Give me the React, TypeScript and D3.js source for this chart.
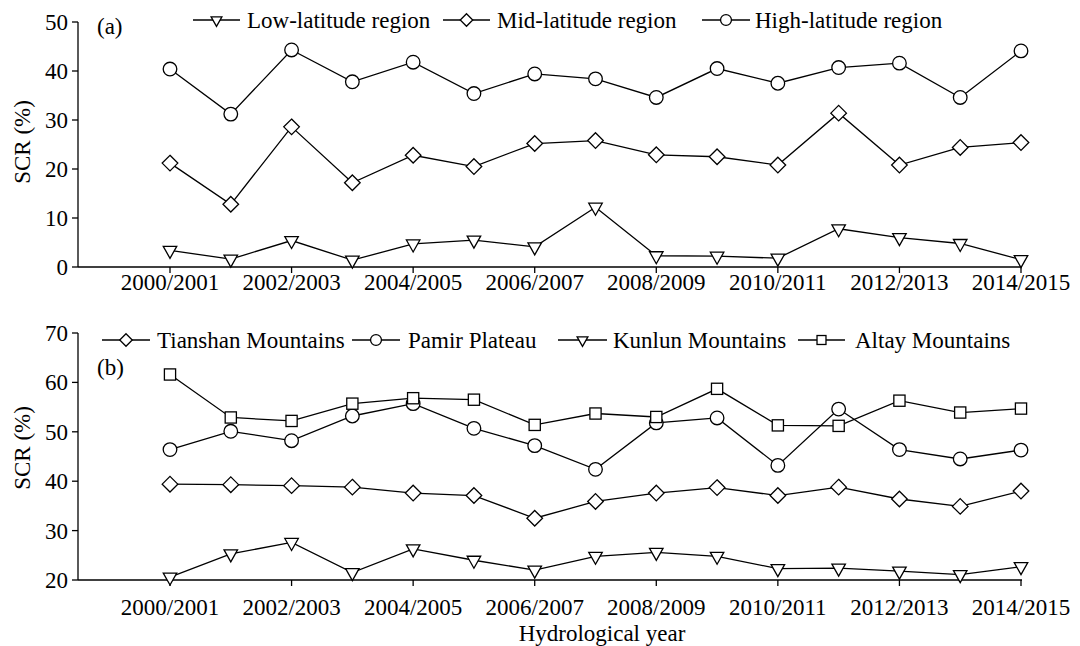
import React from 'react';
import * as d3 from 'd3';

const years = ['2000/2001','2001/2002','2002/2003','2003/2004','2004/2005','2005/2006','2006/2007','2007/2008','2008/2009','2009/2010','2010/2011','2011/2012','2012/2013','2013/2014','2014/2015'];
const tickYears = ['2000/2001','2002/2003','2004/2005','2006/2007','2008/2009','2010/2011','2012/2013','2014/2015'];

const lowLat = [3.4, 1.6, 5.4, 1.4, 4.7, 5.5, 4.1, 12.2, 2.3, 2.2, 1.8, 7.8, 6.0, 4.8, 1.5];
const midLat = [21.2, 12.8, 28.6, 17.2, 22.8, 20.5, 25.2, 25.8, 22.9, 22.5, 20.8, 31.4, 20.8, 24.4, 25.4];
const highLat = [40.4, 31.2, 44.3, 37.8, 41.8, 35.4, 39.4, 38.4, 34.6, 40.5, 37.5, 40.7, 41.6, 34.6, 44.1];

const tianshan = [39.4, 39.3, 39.1, 38.8, 37.6, 37.1, 32.5, 35.9, 37.6, 38.7, 37.1, 38.8, 36.4, 34.9, 38.0];
const pamir = [46.4, 50.1, 48.2, 53.2, 55.7, 50.7, 47.2, 42.4, 51.8, 52.8, 43.2, 54.6, 46.4, 44.5, 46.3];
const kunlun = [20.6, 25.3, 27.6, 21.5, 26.3, 24.0, 22.0, 24.8, 25.6, 24.8, 22.3, 22.4, 21.8, 21.1, 22.7];
const altay = [61.6, 52.9, 52.2, 55.7, 56.8, 56.5, 51.4, 53.7, 53.0, 58.7, 51.3, 51.2, 56.3, 53.9, 54.7];

const ticksA = [0, 10, 20, 30, 40, 50];
const ticksB = [20, 30, 40, 50, 60, 70];

type Shape = 'tri' | 'dia' | 'cir' | 'sq';

const FONT = "'Liberation Serif', 'DejaVu Serif', serif";
const FS = 23;
const SW = 1.3;

function Marker({ shape, x, y, k = 1 }: { shape: Shape; x: number; y: number; k?: number }) {
  const common = { fill: '#fff', stroke: '#000', strokeWidth: SW };
  if (shape === 'cir') return <circle cx={x} cy={y} r={6.8 * k} {...common} />;
  if (shape === 'dia') {
    const s = 7.8 * k;
    return <path d={`M${x},${y - s}L${x + s},${y}L${x},${y + s}L${x - s},${y}Z`} {...common} />;
  }
  if (shape === 'sq') {
    const s = 5.6 * k;
    return <rect x={x - s} y={y - s} width={2 * s} height={2 * s} {...common} />;
  }
  const w = 13.5 * k, h = 12 * k;
  return <path d={`M${x - w / 2},${y - h / 3}L${x + w / 2},${y - h / 3}L${x},${y + (2 * h) / 3}Z`} {...common} />;
}

const x = d3.scaleLinear().domain([0, years.length - 1]).range([170, 1021]);
const AXIS_LEFT = 78;
const AXIS_RIGHT = 1022;

interface Series { name: string; values: number[]; shape: Shape; }
interface LegendItem { shape: Shape; x1: number; x2: number; tx: number; name: string; }

const textStyle = { fontFamily: FONT, fontSize: FS };

function Panel({ series, ticks, yTop, yBot, label, labelY, legend, legendY, tickLabelY, yLabelY }: {
  series: Series[]; ticks: number[]; yTop: number; yBot: number; label: string; labelY: number;
  legend: LegendItem[]; legendY: number; tickLabelY: number; yLabelY: number;
}) {
  const y = d3.scaleLinear().domain([ticks[0], ticks[ticks.length - 1]]).range([yBot, yTop]);
  const line = d3.line<number>().x((_, i) => x(i)).y((d) => y(d));
  return (
    <g>
      <line x1={AXIS_LEFT} x2={AXIS_LEFT} y1={yTop} y2={yBot} stroke="#000" strokeWidth={SW} />
      {ticks.map((t) => (
        <g key={t}>
          <line x1={AXIS_LEFT - 6} x2={AXIS_LEFT} y1={y(t)} y2={y(t)} stroke="#000" strokeWidth={SW} />
          <text x={68} y={y(t)} dy="0.35em" textAnchor="end" style={textStyle}>{t}</text>
        </g>
      ))}
      <text transform={`translate(30,${yLabelY}) rotate(-90)`} textAnchor="middle" style={textStyle}>SCR (%)</text>
      <line x1={AXIS_LEFT} x2={AXIS_RIGHT} y1={yBot} y2={yBot} stroke="#000" strokeWidth={SW} />
      {tickYears.map((t) => {
        const i = years.indexOf(t);
        return (
          <g key={t}>
            <line x1={x(i)} x2={x(i)} y1={yBot} y2={yBot + 6} stroke="#000" strokeWidth={SW} />
            <text x={x(i)} y={tickLabelY} textAnchor="middle" style={textStyle}>{t}</text>
          </g>
        );
      })}
      <text x={97} y={labelY} style={textStyle}>{label}</text>
      {series.map((s) => (
        <g key={s.name}>
          <path d={line(s.values) || ''} fill="none" stroke="#000" strokeWidth={SW} />
          {s.values.map((v, i) => <Marker key={i} shape={s.shape} x={x(i)} y={y(v)} />)}
        </g>
      ))}
      {legend.map((l) => (
        <g key={l.name}>
          <line x1={l.x1} x2={l.x2} y1={legendY} y2={legendY} stroke="#000" strokeWidth={SW} />
          <Marker shape={l.shape} x={(l.x1 + l.x2) / 2} y={legendY} k={0.8} />
          <text x={l.tx} y={legendY} dy="0.35em" style={textStyle}>{l.name}</text>
        </g>
      ))}
    </g>
  );
}

export default function App() {
  const seriesA: Series[] = [
    { name: 'Low-latitude region', values: lowLat, shape: 'tri' },
    { name: 'Mid-latitude region', values: midLat, shape: 'dia' },
    { name: 'High-latitude region', values: highLat, shape: 'cir' },
  ];
  const seriesB: Series[] = [
    { name: 'Tianshan Mountains', values: tianshan, shape: 'dia' },
    { name: 'Pamir Plateau', values: pamir, shape: 'cir' },
    { name: 'Kunlun Mountains', values: kunlun, shape: 'tri' },
    { name: 'Altay Mountains', values: altay, shape: 'sq' },
  ];
  const legendA: LegendItem[] = [
    { shape: 'tri', x1: 193, x2: 240, tx: 247, name: seriesA[0].name },
    { shape: 'dia', x1: 443, x2: 490, tx: 497, name: seriesA[1].name },
    { shape: 'cir', x1: 702, x2: 750, tx: 755, name: seriesA[2].name },
  ];
  const legendB: LegendItem[] = [
    { shape: 'dia', x1: 102, x2: 150, tx: 157, name: seriesB[0].name },
    { shape: 'cir', x1: 352, x2: 400, tx: 408, name: seriesB[1].name },
    { shape: 'tri', x1: 558, x2: 607, tx: 613, name: seriesB[2].name },
    { shape: 'sq', x1: 798, x2: 845, tx: 855, name: seriesB[3].name },
  ];
  return (
    <svg width={1080} height={646} style={{ position: 'absolute', left: 0, top: 0, background: '#fff' }}>
      <rect width={1080} height={646} fill="#fff" />
      <Panel series={seriesA} ticks={ticksA} yTop={22} yBot={267} label="(a)" labelY={34}
        legend={legendA} legendY={20} tickLabelY={290} yLabelY={142} />
      <Panel series={seriesB} ticks={ticksB} yTop={333} yBot={580} label="(b)" labelY={375}
        legend={legendB} legendY={340} tickLabelY={615} yLabelY={448} />
      <text x={602} y={641} textAnchor="middle" style={textStyle}>Hydrological year</text>
    </svg>
  );
}
